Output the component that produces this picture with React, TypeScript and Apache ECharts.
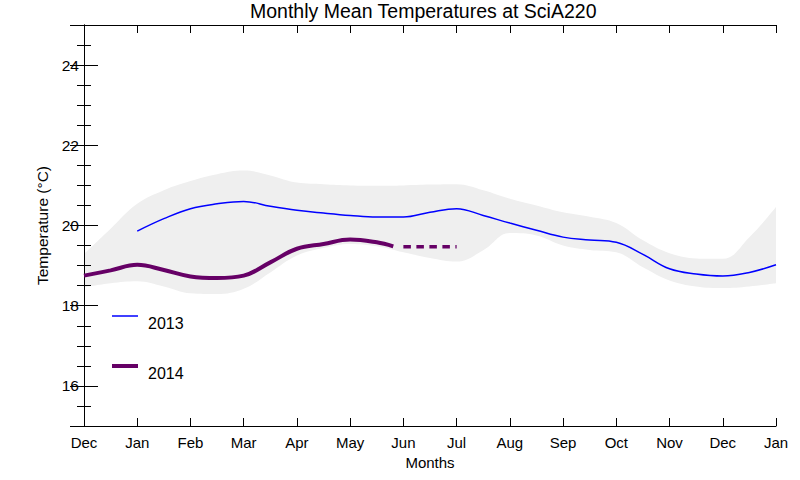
import React, { useEffect, useRef } from "react";
import * as echarts from "echarts";

const monthLabels = ["Dec", "Jan", "Feb", "Mar", "Apr", "May", "Jun", "Jul", "Aug", "Sep", "Oct", "Nov", "Dec", "Jan"];
// positions in months from the start of December (half-month readings)
const bandMonths = [0, 0.5, 1, 1.5, 2, 2.5, 3, 3.5, 4, 4.5, 5, 5.5, 6, 6.5, 7, 7.5, 8, 8.5, 9, 9.5, 10, 10.5, 11, 11.5, 12, 12.5, 13];
const bandUpper = [19.29, 19.92, 20.54, 20.88, 21.11, 21.28, 21.37, 21.25, 21.07, 21.03, 21.0, 20.99, 21.0, 21.02, 21.03, 20.88, 20.67, 20.5, 20.33, 20.22, 20.06, 19.63, 19.31, 19.18, 19.17, 19.71, 20.46];
const bandLower = [18.46, 18.56, 18.61, 18.48, 18.31, 18.29, 18.42, 18.83, 19.25, 19.44, 19.54, 19.48, 19.33, 19.19, 19.1, 19.38, 19.81, 19.75, 19.5, 19.39, 19.33, 18.96, 18.63, 18.48, 18.44, 18.48, 18.56];
const months2013 = [1, 1.5, 2, 2.5, 3, 3.5, 4, 4.5, 5, 5.5, 6, 6.5, 7, 7.5, 8, 8.5, 9, 9.5, 10, 10.5, 11, 11.5, 12, 12.5, 13];
const temps2013 = [19.86, 20.17, 20.42, 20.54, 20.6, 20.48, 20.38, 20.31, 20.25, 20.21, 20.21, 20.33, 20.42, 20.25, 20.06, 19.88, 19.71, 19.64, 19.58, 19.28, 18.92, 18.79, 18.74, 18.83, 19.02];
const months2014 = [0, 0.5, 1, 1.5, 2, 2.5, 3, 3.5, 4, 4.5, 5, 5.5, 5.81];
const temps2014 = [18.75, 18.88, 19.02, 18.89, 18.73, 18.69, 18.75, 19.08, 19.42, 19.54, 19.65, 19.58, 19.48];
const monthsProjected2014 = [6, 7];
const tempsProjected2014 = [19.47, 19.47];

const FONT = "Liberation Sans, Arial, Helvetica, sans-serif";

export default function App() {
  const ref = useRef<HTMLDivElement>(null);
  useEffect(() => {
    if (!ref.current) return;
    const chart = echarts.init(ref.current, null, { renderer: "svg" });
    const pairs = (xs: number[], ys: number[]) => xs.map((x, i) => [x, ys[i]]);
    const yAxisBase = (position: "left" | "right", showLabels: boolean) => ({
      type: "value",
      position,
      min: 15,
      max: 25,
      splitNumber: 5,
      axisLine: { show: true, lineStyle: { color: "#000", width: 1 } },
      axisTick: { show: true, inside: true, length: 14, lineStyle: { color: "#000", width: 1 } },
      minorTick: { show: true, splitNumber: 4, length: 7, lineStyle: { color: "#000", width: 1 } },
      splitLine: { show: false },
      minorSplitLine: { show: false },
      axisLabel: {
        show: showLabels,
        showMinLabel: false,
        showMaxLabel: false,
        margin: 5,
        color: "#000",
        fontSize: 15.5,
        fontFamily: FONT,
        formatter: (v: number) => (v === 15 || v === 25 ? "" : String(v)),
      },
      ...(showLabels
        ? {
            name: "Temperature (°C)",
            nameLocation: "middle",
            nameGap: 34,
            nameTextStyle: { color: "#000", fontSize: 15.5, fontFamily: FONT },
          }
        : {}),
    });
    const xAxisBase = (position: "bottom" | "top", showLabels: boolean) => ({
      type: "value",
      position,
      min: 0,
      max: 13,
      interval: 1,
      axisLine: { show: true, lineStyle: { color: "#000", width: 1 } },
      axisTick: { show: true, inside: true, length: 8, lineStyle: { color: "#000", width: 1 } },
      splitLine: { show: false },
      axisLabel: {
        show: showLabels,
        showMinLabel: true,
        showMaxLabel: true,
        margin: 9,
        color: "#000",
        fontSize: 15,
        fontFamily: FONT,
        formatter: (v: number) => monthLabels[Math.round(v)] ?? "",
      },
      ...(showLabels
        ? {
            name: "Months",
            nameLocation: "middle",
            nameGap: 24,
            nameTextStyle: { color: "#000", fontSize: 15, fontFamily: FONT },
          }
        : {}),
    });
    chart.setOption({
      animation: false,
      backgroundColor: "#fff",
      textStyle: { fontFamily: FONT },
      title: {
        text: "Monthly Mean Temperatures at SciA220",
        left: 250,
        top: 0,
        padding: [1, 0, 0, 0],
        textStyle: { color: "#000", fontSize: 19.5, fontWeight: "normal", fontFamily: FONT },
      },
      grid: { left: 84, right: 24, top: 25, bottom: 54, containLabel: false, outerBoundsMode: "none" },
      xAxis: [xAxisBase("bottom", true), xAxisBase("top", false)],
      yAxis: [yAxisBase("left", true), yAxisBase("right", false)],
      series: [
        {
          name: "range (upper)",
          type: "line",
          smooth: 0.4,
          symbol: "none",
          silent: true,
          lineStyle: { width: 0, opacity: 0 },
          areaStyle: { color: "#efefef", opacity: 1, origin: "start" },
          data: pairs(bandMonths, bandUpper),
          z: -2,
        },
        {
          name: "range (lower)",
          type: "line",
          smooth: 0.4,
          symbol: "none",
          silent: true,
          lineStyle: { width: 0, opacity: 0 },
          areaStyle: { color: "#ffffff", opacity: 1, origin: "start" },
          data: pairs(bandMonths, bandLower),
          z: -1,
        },
        {
          name: "2013",
          type: "line",
          smooth: 0.4,
          symbol: "none",
          lineStyle: { color: "#0000ff", width: 1.5 },
          data: pairs(months2013, temps2013),
          z: 3,
        },
        {
          name: "2014",
          type: "line",
          smooth: 0.4,
          symbol: "none",
          lineStyle: { color: "#660066", width: 4 },
          data: pairs(months2014, temps2014),
          z: 4,
        },
        {
          name: "2014 (projected)",
          type: "line",
          symbol: "none",
          lineStyle: { color: "#660066", width: 3.5, type: [7.5, 5.5] },
          data: pairs(monthsProjected2014, tempsProjected2014),
          z: 4,
        },
      ],
      graphic: [
        { type: "line", shape: { x1: 112, y1: 316, x2: 138, y2: 316 }, style: { stroke: "#0000ff", lineWidth: 1.5 } },
        {
          type: "text",
          x: 148,
          y: 323,
          style: { text: "2013", fill: "#000", fontSize: 16, fontFamily: FONT, verticalAlign: "middle" },
        },
        { type: "line", shape: { x1: 112, y1: 366, x2: 138, y2: 366 }, style: { stroke: "#660066", lineWidth: 4 } },
        {
          type: "text",
          x: 148,
          y: 373,
          style: { text: "2014", fill: "#000", fontSize: 16, fontFamily: FONT, verticalAlign: "middle" },
        },
      ],
    });
    return () => chart.dispose();
  }, []);
  return <div ref={ref} style={{ position: "absolute", left: 0, top: 0, width: 800, height: 480 }} />;
}
